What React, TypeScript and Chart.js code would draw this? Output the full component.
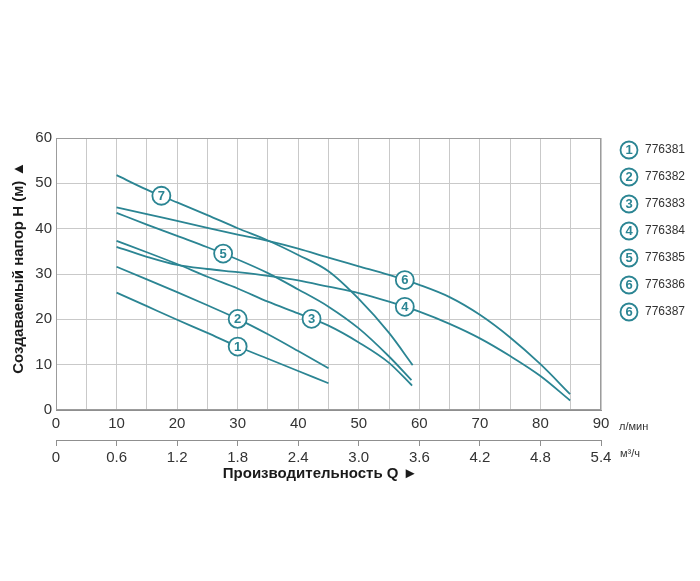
import React, { useEffect, useRef } from 'react';
import { Chart, registerables } from 'chart.js';

Chart.register(...registerables);

// ---------- data ----------
const modelCodes = ['776381', '776382', '776383', '776384', '776385', '776386', '776387'];
const legendBadges = ['1', '2', '3', '4', '5', '6', '6'];
const curveBadges = ['1', '2', '3', '4', '5', '6', '7'];

// flow Q (l/min) and head H (m) for each pump curve
const curve1Q = [10, 15, 20, 25, 30, 35, 40, 45];
const curve1H = [25.9, 22.9, 19.9, 17.0, 14.0, 11.3, 8.6, 5.9];

const curve2Q = [10, 15, 20, 25, 30, 35, 40, 45];
const curve2H = [31.6, 28.8, 26.0, 23.1, 20.1, 16.7, 13.0, 9.2];

const curve3Q = [10, 15, 20, 25, 30, 35, 40, 45, 50, 55, 58.8];
const curve3H = [37.3, 34.8, 32.2, 29.4, 26.8, 23.9, 21.3, 18.6, 14.9, 10.4, 5.4];

const curve4Q = [10, 15, 20, 25, 30, 35, 40, 45, 50, 55, 60, 65, 70, 75, 80, 84.9];
const curve4H = [36.0, 33.8, 32.0, 31.1, 30.4, 29.6, 28.6, 27.2, 25.8, 23.9, 21.7, 19.0, 15.8, 11.9, 7.5, 2.1];

const curve5Q = [10, 15, 20, 25, 30, 35, 40, 45, 50, 55, 58.7];
const curve5H = [43.5, 40.9, 38.4, 35.9, 33.2, 30.2, 26.6, 22.8, 18.0, 11.8, 6.6];

const curve6Q = [10, 15, 20, 25, 30, 35, 40, 45, 50, 55, 60, 65, 70, 75, 80, 84.9];
const curve6H = [44.7, 43.2, 41.7, 40.2, 38.7, 37.3, 35.6, 33.6, 31.7, 29.8, 27.6, 24.9, 21.0, 16.0, 10.1, 3.5];

const curve7Q = [10, 15, 20, 25, 30, 35, 40, 45, 50, 55, 58.9];
const curve7H = [51.8, 48.6, 45.8, 43.0, 40.1, 37.4, 34.2, 30.6, 24.5, 17.0, 9.9];

// flow at which each curve's number badge sits
const curveBadgeQ = [30, 30, 42.2, 57.6, 27.6, 57.6, 17.4];

// axis ticks
const headTicks = [0, 10, 20, 30, 40, 50, 60];
const flowGridTicks = [0, 5, 10, 15, 20, 25, 30, 35, 40, 45, 50, 55, 60, 65, 70, 75, 80, 85, 90];
const flowLabelTicks = [0, 10, 20, 30, 40, 50, 60, 70, 80, 90];
const m3hTicks = [0, 0.6, 1.2, 1.8, 2.4, 3.0, 3.6, 4.2, 4.8, 5.4];
const m3hLabels = ['0', '0.6', '1.2', '1.8', '2.4', '3.0', '3.6', '4.2', '4.8', '5.4'];

const curvesQ = [curve1Q, curve2Q, curve3Q, curve4Q, curve5Q, curve6Q, curve7Q];
const curvesH = [curve1H, curve2H, curve3H, curve4H, curve5H, curve6H, curve7H];

// ---------- styles ----------
const TEAL = '#2b8593';
const GRID = '#c9c9c9';
const AXIS = '#8f8f8f';
const TEXT = '#333333';
const FONT = '"Liberation Sans", Arial, Helvetica, sans-serif';

function headAt(i: number, q: number): number {
  const qs = curvesQ[i];
  const hs = curvesH[i];
  for (let k = 0; k < qs.length - 1; k++) {
    if (q >= qs[k] && q <= qs[k + 1]) {
      const t = (q - qs[k]) / (qs[k + 1] - qs[k]);
      return hs[k] + t * (hs[k + 1] - hs[k]);
    }
  }
  return hs[hs.length - 1];
}

function drawBadge(ctx: CanvasRenderingContext2D, x: number, y: number, r: number, text: string, size: number) {
  ctx.beginPath();
  ctx.arc(x, y, r, 0, Math.PI * 2);
  ctx.fillStyle = '#ffffff';
  ctx.fill();
  ctx.lineWidth = 1.8;
  ctx.strokeStyle = TEAL;
  ctx.stroke();
  ctx.fillStyle = TEAL;
  ctx.font = `bold ${size}px ${FONT}`;
  ctx.textAlign = 'center';
  ctx.textBaseline = 'middle';
  ctx.fillText(text, x, y + 0.5);
}

const frameAndBadges = {
  id: 'frameAndBadges',
  beforeDatasetsDraw(chart: any) {
    const { ctx, chartArea } = chart;
    ctx.save();
    ctx.strokeStyle = '#9c9c9c';
    ctx.lineWidth = 1;
    ctx.strokeRect(chartArea.left + 0.5, chartArea.top + 0.5, chartArea.right - chartArea.left - 1, chartArea.bottom - chartArea.top - 1);
    ctx.restore();
  },
  afterDatasetsDraw(chart: any) {
    const { ctx, scales } = chart;
    ctx.save();
    curveBadgeQ.forEach((q, i) => {
      const px = scales.x.getPixelForValue(q);
      const py = scales.y.getPixelForValue(headAt(i, q));
      drawBadge(ctx, px, py, 9, curveBadges[i], 13);
    });
    ctx.restore();
  },
  afterDraw(chart: any) {
    const { ctx, chartArea, scales } = chart;
    ctx.save();
    // legend
    const lx = chartArea.right + 28;
    chart.data.datasets.forEach((ds: any, i: number) => {
      const y = chartArea.top + 12 + i * 27;
      drawBadge(ctx, lx, y, 8.5, legendBadges[i], 13);
      ctx.fillStyle = TEXT;
      ctx.font = `12px ${FONT}`;
      ctx.textAlign = 'left';
      ctx.textBaseline = 'middle';
      ctx.fillText(ds.label, lx + 16, y);
    });
    // units
    ctx.fillStyle = TEXT;
    ctx.font = `11px ${FONT}`;
    ctx.textAlign = 'left';
    ctx.textBaseline = 'middle';
    ctx.fillText('л/мин', chartArea.right + 18, scales.x.top + 17);
    ctx.fillText('м³/ч', chartArea.right + 19, scales.x2.top + 14);
    ctx.restore();
  },
};

export default function App() {
  const canvasRef = useRef<HTMLCanvasElement | null>(null);

  useEffect(() => {
    const canvas = canvasRef.current;
    if (!canvas) return;
    const datasets = curvesQ.map((qs, i) => ({
      label: modelCodes[i],
      data: qs.map((q, k) => ({ x: q, y: curvesH[i][k] })),
      borderColor: TEAL,
      backgroundColor: TEAL,
      borderWidth: 1.8,
      pointRadius: 0,
      pointHoverRadius: 0,
      fill: false,
      tension: 0.4,
      cubicInterpolationMode: 'monotone' as const,
      xAxisID: 'x',
      yAxisID: 'y',
    }));

    const chart = new Chart(canvas, {
      type: 'line',
      data: { datasets },
      plugins: [frameAndBadges],
      options: {
        animation: false,
        responsive: false,
        devicePixelRatio: 1,
        events: [],
        layout: { padding: { top: 138, right: 99, bottom: 96, left: 0 } },
        plugins: { legend: { display: false }, tooltip: { enabled: false } },
        scales: {
          x: {
            type: 'linear',
            position: 'bottom',
            min: 0,
            max: 90,
            afterBuildTicks: (s: any) => { s.ticks = flowGridTicks.map((v) => ({ value: v })); },
            afterFit: (s: any) => { s.height = 30; },
            ticks: {
              autoSkip: false,
              maxRotation: 0,
              padding: 5,
              color: TEXT,
              font: { family: FONT, size: 15 },
              callback: (v: any) => (flowLabelTicks.includes(Number(v)) ? String(v) : ''),
            },
            grid: { color: GRID, lineWidth: 1, drawTicks: false },
            border: { display: true, color: AXIS },
          },
          x2: {
            type: 'linear',
            position: 'bottom',
            min: 0,
            max: 5.4,
            afterBuildTicks: (s: any) => { s.ticks = m3hTicks.map((v) => ({ value: v })); },
            afterFit: (s: any) => { s.height = 45; },
            ticks: {
              autoSkip: false,
              maxRotation: 0,
              padding: 3,
              color: TEXT,
              font: { family: FONT, size: 15 },
              callback: (_v: any, i: number) => m3hLabels[i],
            },
            grid: { drawOnChartArea: false, drawTicks: true, tickLength: 6, color: AXIS },
            border: { display: true, color: AXIS },
            title: {
              display: true,
              text: 'Производительность Q ►\u00a0\u00a0\u00a0\u00a0',
              color: '#1a1a1a',
              font: { family: FONT, size: 15, weight: 'bold' },
              padding: { top: 0, bottom: 2 },
            },
          },
          y: {
            type: 'linear',
            position: 'left',
            min: 0,
            max: 60,
            afterBuildTicks: (s: any) => { s.ticks = headTicks.map((v) => ({ value: v })); },
            afterFit: (s: any) => { s.width = 56; },
            ticks: { padding: 4, color: TEXT, font: { family: FONT, size: 15 } },
            grid: { color: GRID, lineWidth: 1, drawTicks: false },
            border: { display: true, color: AXIS },
            title: {
              display: true,
              text: '\u00a0\u00a0\u00a0Создаваемый напор Н (м) ▲',
              color: '#1a1a1a',
              font: { family: FONT, size: 15, weight: 'bold' },
              padding: { top: 10, bottom: 0 },
            },
          },
        },
      } as any,
    });
    return () => chart.destroy();
  }, []);

  return (
    <div style={{ position: 'absolute', left: 0, top: 0, width: 700, height: 581, background: '#fff' }}>
      <canvas ref={canvasRef} width={700} height={581} style={{ display: 'block', width: 700, height: 581 }} />
    </div>
  );
}
